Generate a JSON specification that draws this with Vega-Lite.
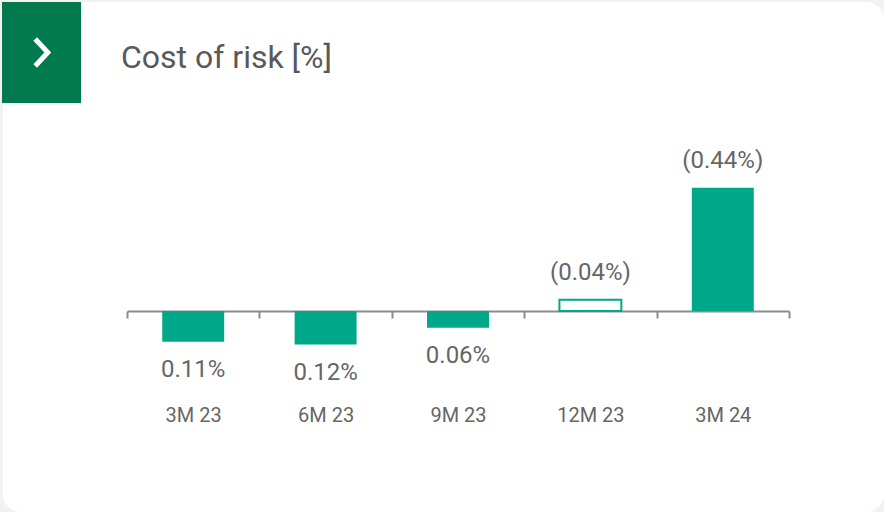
{
  "$schema": "https://vega.github.io/schema/vega-lite/v6.json",
  "width": 884,
  "height": 512,
  "autosize": {"type": "fit", "contains": "padding"},
  "padding": {"left": 2, "top": 2, "right": 0, "bottom": 0},
  "background": "#f2f2f2",
  "config": {
    "view": {"fill": "white", "stroke": null, "cornerRadius": 18},
    "font": "Roboto"
  },
  "title": {
    "text": "Cost of risk [%]",
    "anchor": "start",
    "frame": "group",
    "orient": "top",
    "offset": -98,
    "dx": 118,
    "baseline": "alphabetic",
    "fontSize": 32,
    "font": "Roboto",
    "fontWeight": "normal",
    "color": "#595959"
  },
  "datasets": {
    "cor": [
      {"period": "3M 23", "cor": 0.11, "label": "0.11%"},
      {"period": "6M 23", "cor": 0.12, "label": "0.12%"},
      {"period": "9M 23", "cor": 0.06, "label": "0.06%"},
      {"period": "12M 23", "cor": -0.04, "label": "(0.04%)"},
      {"period": "3M 24", "cor": -0.44, "label": "(0.44%)"}
    ],
    "header": [{"icon": "›"}]
  },
  "layer": [
    {
      "data": {"name": "header"},
      "encoding": {
        "x": {"field": "icon", "type": "nominal", "axis": null, "scale": {"range": [-1, 78], "paddingInner": 0, "paddingOuter": 0}},
        "y": {"field": "icon", "type": "nominal", "axis": null, "scale": {"range": [0, 101], "paddingInner": 0, "paddingOuter": 0}}
      },
      "layer": [
        {"mark": {"type": "rect", "fill": "#00794f"}},
        {"mark": {"type": "point", "shape": "M-0.35,-0.75L0.35,0L-0.35,0.75", "filled": false, "stroke": "white", "strokeWidth": 5, "size": 1300, "opacity": 1, "strokeJoin": "miter"}}
      ]
    },
    {
      "data": {"name": "cor"},
      "encoding": {
        "x": {
          "field": "period", "type": "nominal", "sort": null,
          "scale": {"range": [124, 786], "paddingInner": 0, "paddingOuter": 0},
          "axis": {
            "title": null, "offset": -201, "labelAngle": 0,
            "domainColor": "#8c8c8c", "domainWidth": 2,
            "tickColor": "#8c8c8c", "tickWidth": 2, "tickSize": 7, "tickBand": "extent",
            "labelFont": "Roboto", "labelFontSize": 20, "labelColor": "#666666",
            "labelBaseline": "alphabetic", "labelPadding": 103
          }
        },
        "y": {
          "field": "cor", "type": "quantitative",
          "scale": {"domain": [-1.1036, 0.7179], "reverse": true, "nice": false, "zero": false},
          "axis": null
        }
      },
      "layer": [
        {
          "mark": {"type": "bar", "strokeWidth": 2, "width": {"band": 0.468}},
          "encoding": {
            "fill": {"condition": {"test": "datum.period === '12M 23'", "value": "white"}, "value": "#00a88a"},
            "stroke": {"condition": {"test": "datum.period === '12M 23'", "value": "#00a88a"}, "value": null}
          }
        },
        {
          "transform": [{"filter": "datum.cor > 0"}],
          "mark": {"type": "text", "baseline": "alphabetic", "dy": 35, "fontSize": 24, "color": "#666666", "font": "Roboto"},
          "encoding": {"text": {"field": "label"}}
        },
        {
          "transform": [{"filter": "datum.cor < 0"}],
          "mark": {"type": "text", "baseline": "alphabetic", "dy": -20, "fontSize": 24, "color": "#666666", "font": "Roboto"},
          "encoding": {"text": {"field": "label"}}
        }
      ]
    }
  ],
  "resolve": {"scale": {"x": "independent", "y": "independent"}}
}
